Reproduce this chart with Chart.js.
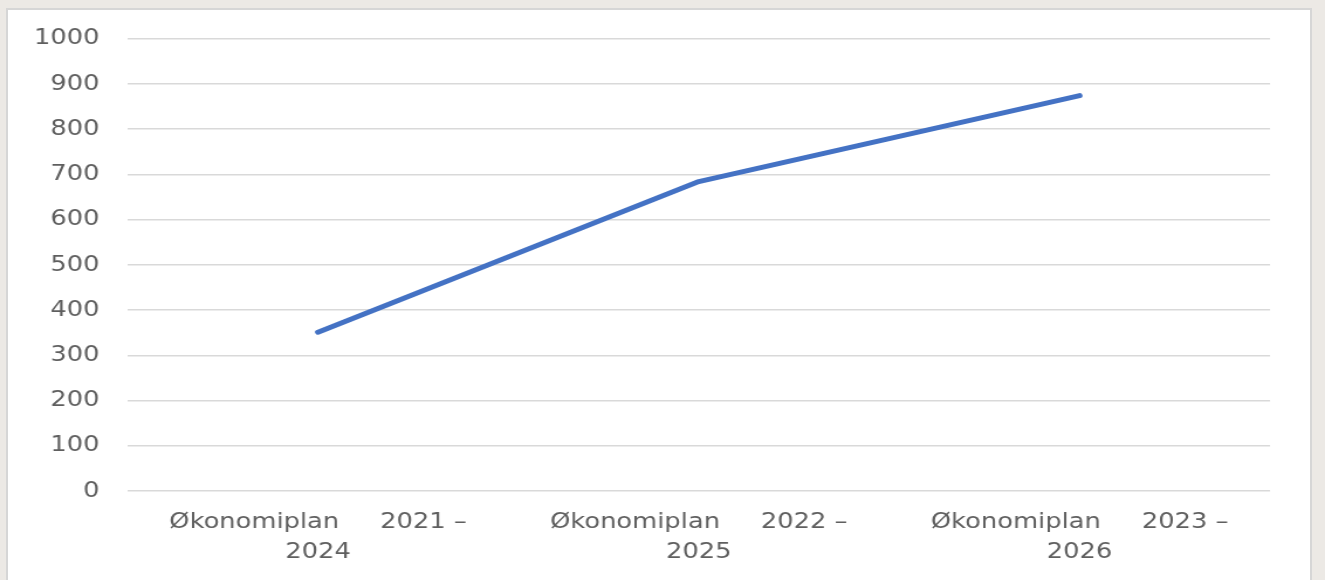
<!DOCTYPE html>
<html>
<head>
<meta charset="utf-8">
<script src="https://cdn.jsdelivr.net/npm/chart.js@4/dist/chart.umd.min.js"></script>
<style>
  body { margin: 0; background: #ECE9E5; width: 1325px; height: 580px; overflow: hidden; position: relative; }
  #panel { position: absolute; left: 6px; top: 8px; width: 1302px; height: 600px; background: #fff; border: 2px solid #D6D6D6; }
  /* the picture is stretched sideways, so draw narrower and widen */
  #wrap { position: absolute; left: 0; top: 0; width: 1132px; height: 580px; transform: scaleX(1.1705); transform-origin: 0 0; }
</style>
</head>
<body>
<div id="panel"></div>
<div id="wrap"><canvas id="lineCanvas" width="1132" height="580"></canvas></div>
<script>
// categories (multi-line labels as in the picture)
let planLabels = [
  ["Økonomiplan\u00a0\u00a0\u00a0\u00a0\u00a02021 –", "2024"],
  ["Økonomiplan\u00a0\u00a0\u00a0\u00a0\u00a02022 –", "2025"],
  ["Økonomiplan\u00a0\u00a0\u00a0\u00a0\u00a02023 –", "2026"]
];
// series values
let planValues = [351, 684, 874];
// y axis
let yMin = 0;
let yMax = 1000;
let yStep = 100;

let textColor = '#5F5F5F';
let tickFont = { family: 'DejaVu Sans', size: 22, lineHeight: 1.33 };

let ctx = document.getElementById('lineCanvas').getContext('2d');

let myLineChart = new Chart(ctx, {
  type: 'line',
  data: {
    labels: planLabels,
    datasets: [{
      data: planValues,
      borderColor: '#4472C4',
      borderWidth: 5,
      borderCapStyle: 'round',
      borderJoinStyle: 'round',
      pointRadius: 0,
      tension: 0,
      fill: false
    }]
  },
  options: {
    responsive: false,
    animation: false,
    layout: { padding: { left: 0, right: 47, top: 38, bottom: 0 } },
    plugins: { legend: { display: false }, tooltip: { enabled: false } },
    scales: {
      x: {
        offset: true,
        grid: { display: false, drawTicks: false },
        border: { display: false },
        ticks: { color: textColor, font: tickFont, padding: 17, maxRotation: 0, autoSkip: false },
        afterFit: function(axis) { axis.height = 89; }
      },
      y: {
        min: yMin,
        max: yMax,
        grid: { color: '#D9D9D9', lineWidth: 1.5, drawTicks: false },
        border: { display: false },
        ticks: {
          stepSize: yStep, color: textColor, font: tickFont, padding: 24,
          callback: function(value) { return String(value); }
        },
        afterFit: function(axis) { axis.width = 109; }
      }
    }
  }
});
</script>
</body>
</html>
